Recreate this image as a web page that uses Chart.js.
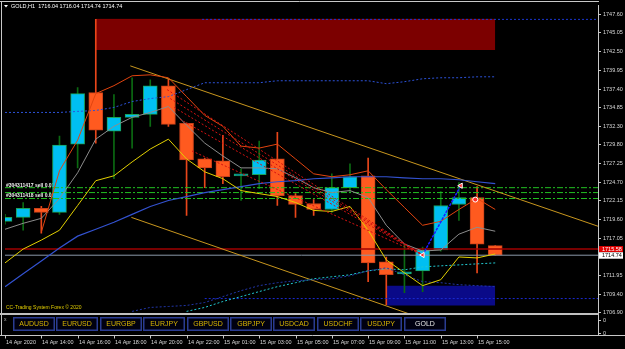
<!DOCTYPE html>
<html>
<head>
<meta charset="utf-8">
<script src="https://cdn.jsdelivr.net/npm/chart.js@4.4.1/dist/chart.umd.min.js"></script>
<style>
  html, body { margin: 0; padding: 0; background: #000; overflow: hidden; }
  canvas { display: block; }
</style>
</head>
<body>
<canvas id="gold" width="625" height="349"></canvas>
<script>
// GOLD H1, 14 Apr 12:00 .. 15 Apr 16:00 (one entry per bar, index = bar number)
var opens  = [1719.36,1719.90,1721.12,1720.58,1729.89,1736.91,1731.65,1733.54,1733.94,1737.85,1732.73,1727.87,1727.60,1725.57,1725.71,1727.87,1722.87,1721.79,1720.98,1723.95,1725.57,1713.83,1712.20,1712.61,1715.45,1721.66,1722.60,1716.04];
var highs  = [1720.30,1721.93,1721.39,1730.97,1737.59,1746.90,1736.64,1738.94,1738.67,1738.80,1732.80,1728.00,1731.10,1726.52,1730.30,1731.51,1723.14,1722.33,1725.84,1727.19,1728.00,1714.50,1716.12,1715.85,1723.41,1724.63,1724.09,1716.04];
var lows   = [1718.96,1718.15,1717.74,1720.30,1726.65,1730.03,1725.17,1729.35,1732.32,1732.32,1720.17,1723.95,1724.49,1722.20,1723.82,1721.52,1719.90,1720.17,1720.58,1723.28,1711.13,1708.00,1709.64,1709.78,1715.30,1719.50,1712.34,1714.74];
var closes = [1719.90,1721.12,1720.58,1729.76,1736.78,1731.78,1733.54,1733.94,1737.85,1732.59,1727.73,1726.65,1725.44,1725.84,1727.73,1722.87,1721.66,1720.98,1723.95,1725.44,1713.69,1712.07,1712.48,1715.45,1721.52,1722.60,1716.26,1714.74];

// indicator lines
var maYellow = [1713.69,1715.58,1716.80,1718.15,1721.52,1724.90,1725.57,1727.46,1729.22,1730.57,1727.87,1726.11,1725.17,1723.55,1723.14,1722.74,1721.93,1720.85,1720.71,1721.39,1718.15,1714.10,1712.34,1710.59,1711.40,1714.50,1714.37,1714.91];
var maGray   = [1718.28,1719.09,1719.77,1722.47,1725.98,1730.57,1732.32,1733.54,1734.21,1735.02,1732.46,1730.03,1728.27,1726.65,1726.65,1726.52,1725.30,1723.95,1723.28,1723.55,1722.60,1718.82,1716.26,1715.31,1715.45,1717.61,1718.55,1718.01];
var maOrange = [null,null,1717.88,1726.25,1730.43,1736.78,1737.86,1739.21,1739.34,1738.94,1736.37,1733.81,1732.32,1729.62,1729.35,1729.89,1727.87,1725.84,1725.44,1725.71,1726.25,1723.68,1721.25,1718.82,1719.36,1720.98,1722.47,1720.98];
var maBlue   = [1710.45,1712.21,1713.96,1715.72,1717.34,1718.28,1719.23,1720.31,1721.39,1722.20,1722.74,1723.28,1723.68,1724.09,1724.49,1724.76,1724.90,1725.17,1725.30,1725.44,1725.44,1725.44,1725.30,1725.17,1725.17,1725.03,1724.76,1724.49];
var bandUpper = [1734.21,1734.21,1734.21,1734.21,1734.35,1734.48,1734.89,1735.70,1736.10,1736.37,1737.32,1738.26,1738.26,1738.26,1738.26,1738.53,1738.53,1738.53,1738.53,1738.53,1738.53,1738.13,1738.40,1738.80,1738.94,1738.94,1739.07,1739.07];
var bandLower = [null,null,null,null,null,null,null,1707.08,1707.62,1707.75,1707.89,1708.29,1709.10,1709.91,1710.59,1710.99,1711.26,1711.40,1711.53,1711.94,1712.61,1713.02,1712.07,1711.13,1710.99,1710.72,1710.59,1710.45];
var cyanDots  = [null,null,null,null,null,null,null,null,null,null,1707.08,1707.62,1708.43,1709.10,1709.78,1710.45,1710.99,1711.53,1711.80,1712.07,1712.61,1712.88,1712.75,1713.15,1713.29,1713.42,1713.56,1713.69];

// drawn objects
var supplyZone = [5, 27, 1742.72, 1746.90];   // x from, x to, price low, price high
var demandZone = [21.04, 27, 1707.89, 1710.59];
var trendUpper = [[6.9, 1740.56], [32.66, 1718.69]];
var trendLower = [[6.96, 1719.90], [22.19, 1706.80]];
var fanStarts  = [[8.93, 1737.32], [9.1, 1736.10], [9.32, 1734.89], [9.64, 1733.27], [10.3, 1728.95]];
var fanEnd     = [23, 1714.77];
var arrowLine  = [[23, 1714.77], [25.1, 1724.22]];
var greenLevels = [1723.95, 1723.28, 1722.47];
var blueLevelTop = [10.85, 1746.90];
var blueLevelLow = [11.0, 1708.83];
var askPrice = 1715.58;
var bidPrice = 1714.74;
var orderLabels = ['#304311417 sell 0.01', '#304311418 sell 0.01'];
var orderPrices = [1724.22, 1722.87];

// axes
var yTicks = [1747.60,1745.05,1742.50,1739.95,1737.40,1734.85,1732.30,1729.80,1727.25,1724.70,1722.15,1719.60,1717.05,1711.95,1709.40,1706.90];
var timeIdx = [0,2,4,6,8,10,12,14,16,18,20,22,24,26];
var timeText = ['14 Apr 2020','14 Apr 14:00','14 Apr 16:00','14 Apr 18:00','14 Apr 20:00','14 Apr 22:00','15 Apr 01:00','15 Apr 03:00','15 Apr 05:00','15 Apr 07:00','15 Apr 09:00','15 Apr 11:00','15 Apr 13:00','15 Apr 15:00'];
var symbols = ['AUDUSD','EURUSD','EURGBP','EURJPY','GBPUSD','GBPJPY','USDCAD','USDCHF','USDJPY','GOLD'];

var FONT = '"Liberation Sans", Arial, sans-serif';
Chart.defaults.font.family = FONT;

function series(arr) {
  return arr.map(function (v, i) { return { x: i, y: v }; });
}
function seg(p) {
  return p.map(function (q) { return { x: q[0], y: q[1] }; });
}
function lineDs(data, color, width, dash, order) {
  return {
    type: 'line', data: data, borderColor: color, borderWidth: width,
    borderDash: dash || [], pointRadius: 0, fill: false, tension: 0, order: order || 1
  };
}

var bull = closes.map(function (c, i) { return c >= opens[i]; });

var datasets = [];

// zones (behind everything)
datasets.push({
  type: 'line', data: [{ x: supplyZone[0], y: supplyZone[3] }, { x: supplyZone[1], y: supplyZone[3] }],
  fill: { value: supplyZone[2] }, backgroundColor: '#7c0000', borderColor: '#8e0000', borderWidth: 1,
  pointRadius: 0, order: 40
});
datasets.push({
  type: 'line', data: [{ x: demandZone[0], y: demandZone[3] }, { x: demandZone[1], y: demandZone[3] }],
  fill: { value: demandZone[2] }, backgroundColor: '#0a0a88', borderColor: '#0a0a88', borderWidth: 0,
  pointRadius: 0, order: 40
});

// candles
datasets.push({
  type: 'bar', grouped: false, barThickness: 1, order: 21,
  data: highs.map(function (h, i) { return { x: i, y: [lows[i], h] }; }),
  backgroundColor: bull.map(function (b) { return b ? '#0b6a12' : '#e8461a'; }),
  borderWidth: 0
});
datasets.push({
  type: 'bar', grouped: false, barThickness: 14, order: 20, minBarLength: 2,
  data: opens.map(function (o, i) { return { x: i, y: [Math.min(o, closes[i]), Math.max(o, closes[i])] }; }),
  backgroundColor: bull.map(function (b) { return b ? '#00bff2' : '#ff5a1f'; }),
  borderColor: bull.map(function (b) { return b ? '#1aa35a' : '#c8401a'; }),
  borderWidth: 1, borderSkipped: false
});

// horizontal levels
datasets.push(lineDs([{ x: 0, y: askPrice }, { x: 32.66, y: askPrice }], '#a00000', 1.5, [], 9));
datasets.push(lineDs([{ x: 0, y: bidPrice }, { x: 32.66, y: bidPrice }], '#8a98a8', 1, [], 9));
greenLevels.forEach(function (g) {
  datasets.push(lineDs([{ x: 0, y: g }, { x: 32.66, y: g }], '#22c022', 1, [6, 2, 2, 2], 8));
});
datasets.push(lineDs([{ x: blueLevelTop[0], y: blueLevelTop[1] }, { x: 32.66, y: blueLevelTop[1] }], '#1a36d0', 1, [2, 2], 8));
datasets.push(lineDs([{ x: blueLevelLow[0], y: blueLevelLow[1] }, { x: 32.66, y: blueLevelLow[1] }], '#1a2ad0', 1, [2, 2], 8));

// trend channel
datasets.push(lineDs(seg(trendUpper), '#c8961e', 1, [], 7));
datasets.push(lineDs(seg(trendLower), '#c8961e', 1, [], 7));

// moving averages / bands
datasets.push(lineDs(series(bandUpper), '#2c52d8', 1, [2, 2], 6));
datasets.push(lineDs(series(bandLower), '#2236a8', 1, [2, 2], 6));
datasets.push(lineDs(series(cyanDots), '#22c8d0', 1, [2, 2], 6));
datasets.push(lineDs(series(maBlue), '#3352d0', 1.2, [], 5));
datasets.push(lineDs(series(maGray), '#8c8c8c', 1, [], 5));
datasets.push(lineDs(series(maYellow), '#e2d000', 1, [], 4));
datasets.push(lineDs(series(maOrange), '#e2440f', 1, [], 4));

// red projection fan
fanStarts.forEach(function (s) {
  datasets.push(lineDs([{ x: s[0], y: s[1] }, { x: fanEnd[0], y: fanEnd[1] }], '#d41212', 1, [2, 2], 3));
});

// signal arrow + markers
datasets.push(lineDs(seg(arrowLine), '#1c1cff', 1.5, [3, 1], 2));
datasets.push({
  type: 'line', showLine: false, order: 1,
  data: [{ x: 25.1, y: 1724.22 }, { x: 23.0, y: 1714.77 }],
  pointStyle: 'triangle', rotation: -90, pointRadius: 3,
  pointBackgroundColor: '#ff2a2a', pointBorderColor: '#ffffff', pointBorderWidth: 1
});
datasets.push({
  type: 'line', showLine: false, order: 1,
  data: [{ x: 25.9, y: 1722.33 }],
  pointStyle: 'circle', pointRadius: 2.5,
  pointBackgroundColor: '#ff2a2a', pointBorderColor: '#ffffff', pointBorderWidth: 1
});

var decor = {
  id: 'decor',
  beforeDraw: function (chart) {
    var ctx = chart.ctx;
    ctx.save();
    ctx.fillStyle = '#000';
    ctx.fillRect(0, 0, chart.width, chart.height);
    ctx.restore();
  },
  beforeDatasetsDraw: function (chart) {
    var ctx = chart.ctx, ys = chart.scales.y;
    ctx.save();
    ctx.font = 'bold 5px ' + FONT;
    ctx.fillStyle = '#f0f0f0';
    ctx.textBaseline = 'middle';
    orderLabels.forEach(function (t, k) {
      ctx.fillText(t, 6, ys.getPixelForValue(orderPrices[k]));
    });
    ctx.restore();
  },
  afterDraw: function (chart) {
    var ctx = chart.ctx, xs = chart.scales.x, ys = chart.scales.y, a = chart.chartArea;
    ctx.save();

    // frame
    ctx.strokeStyle = '#c8c8c8';
    ctx.lineWidth = 1;
    ctx.beginPath();
    ctx.moveTo(0, 1.5); ctx.lineTo(a.right + 1, 1.5);
    ctx.moveTo(1.5, 1); ctx.lineTo(1.5, 335);
    ctx.moveTo(a.right + 0.5, a.bottom); ctx.lineTo(a.right + 0.5, 335);
    ctx.moveTo(0, 335.5); ctx.lineTo(625, 335.5);
    ctx.stroke();
    ctx.fillStyle = '#c0c0c0';
    ctx.fillRect(0, 313, a.right, 2);

    // time axis: tick marks and labels
    ctx.beginPath();
    timeIdx.forEach(function (i) {
      var px = Math.round(xs.getPixelForValue(i)) + 0.5;
      ctx.moveTo(px, 335); ctx.lineTo(px, 338.5);
    });
    ctx.stroke();
    ctx.fillStyle = '#d8d8d8';
    ctx.font = '5.5px ' + FONT;
    ctx.textBaseline = 'middle';
    ctx.textAlign = 'left';
    timeIdx.forEach(function (i, k) {
      ctx.fillText(timeText[k], Math.round(xs.getPixelForValue(i)) + 1, 342.5);
    });

    // title
    ctx.fillStyle = '#ffffff';
    ctx.beginPath();
    ctx.moveTo(4, 5); ctx.lineTo(8, 5); ctx.lineTo(6, 7.5); ctx.closePath(); ctx.fill();
    ctx.font = '5.5px ' + FONT;
    var last = opens.length - 1;
    ctx.fillText('GOLD,H1  ' + [opens[last], highs[last], lows[last], closes[last]].map(function (v) { return v.toFixed(2); }).join(' '), 11, 6.5);

    // copyright
    ctx.fillStyle = '#e0cc00';
    ctx.font = '5px ' + FONT;
    ctx.fillText('CC-Trading System Forex \u00a9 2020', 6, 308);

    // ask / bid labels
    var ay = ys.getPixelForValue(askPrice), by = ys.getPixelForValue(bidPrice);
    ctx.fillStyle = '#e00000';
    ctx.fillRect(599, ay - 3, 24, 6);
    ctx.fillStyle = '#ffffff';
    ctx.font = '5.5px ' + FONT;
    ctx.fillText(askPrice.toFixed(2), 602, ay);
    ctx.fillStyle = '#ffffff';
    ctx.fillRect(599, by - 3, 24, 6.5);
    ctx.fillStyle = '#000000';
    ctx.fillText(bidPrice.toFixed(2), 602, by + 0.3);

    // sub window: zero labels, close mark, symbol buttons
    ctx.fillStyle = '#d8d8d8';
    ctx.fillText('0', 603, 320);
    ctx.fillText('0', 603, 333);
    ctx.strokeStyle = '#c8c8c8';
    ctx.beginPath();
    ctx.moveTo(a.right, 320.5); ctx.lineTo(a.right + 3, 320.5);
    ctx.moveTo(a.right, 333.5); ctx.lineTo(a.right + 3, 333.5);
    ctx.stroke();
    ctx.fillStyle = '#b0b0b0';
    ctx.font = '5px ' + FONT;
    ctx.fillText('x', 4, 320);

    ctx.font = '7px ' + FONT;
    ctx.textAlign = 'center';
    symbols.forEach(function (s, k) {
      var bx = Math.round(13 + k * 43.4);
      ctx.fillStyle = '#000010';
      ctx.fillRect(bx, 317, 42, 14);
      ctx.strokeStyle = '#2a3c92';
      ctx.lineWidth = 1.5;
      ctx.strokeRect(bx + 0.75, 317.75, 40.5, 12.5);
      ctx.fillStyle = s === 'GOLD' ? '#e6e6e6' : '#d8b400';
      ctx.fillText(s, bx + 21, 324.5);
    });
    ctx.restore();
  }
};

new Chart(document.getElementById('gold'), {
  type: 'bar',
  data: { datasets: datasets },
  plugins: [decor],
  options: {
    responsive: false,
    animation: false,
    devicePixelRatio: 1,
    layout: { padding: { left: 2, top: 2, right: 0, bottom: 36 } },
    plugins: { legend: { display: false }, tooltip: { enabled: false } },
    scales: {
      x: {
        type: 'linear', min: 0, max: 32.66, offset: false, display: false
      },
      y: {
        type: 'linear', position: 'right', min: 1706.86, max: 1748.82,
        afterFit: function (s) { s.width = 27; },
        afterBuildTicks: function (s) { s.ticks = yTicks.map(function (v) { return { value: v }; }); },
        grid: { display: true, drawOnChartArea: false, drawTicks: true, tickLength: 3, color: '#c8c8c8' },
        border: { display: true, color: '#c8c8c8' },
        ticks: {
          color: '#d8d8d8', font: { size: 5.5 }, padding: 2, autoSkip: false,
          callback: function (v) { return Number(v).toFixed(2); }
        }
      }
    }
  }
});
</script>
</body>
</html>
